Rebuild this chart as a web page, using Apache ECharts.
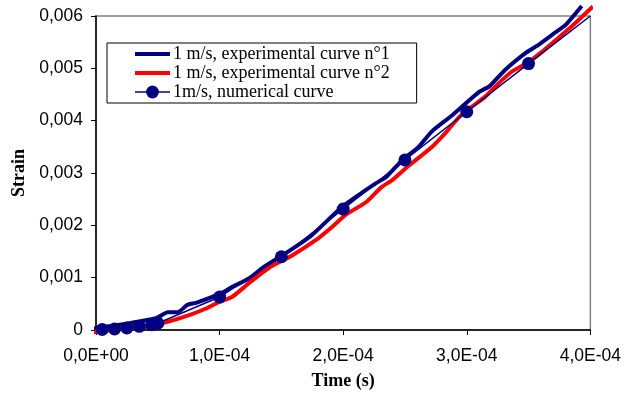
<!DOCTYPE html>
<html>
<head>
<meta charset="utf-8">
<script src="https://cdn.jsdelivr.net/npm/echarts@6/dist/echarts.min.js"></script>
<style>html,body{margin:0;padding:0;background:#fff}#c{width:624px;height:402px}</style>
</head>
<body>
<div id="c"></div>
<script>
// Time in units of 1E-4 s, strain in units of 1E-3 (converted below)
const exp1Time = [-0.10,0.01,0.27,0.49,0.58,0.66,0.74,0.81,1.00,1.10,1.24,1.35,1.51,1.67,1.75,1.99,2.15,2.27,2.35,2.48,2.61,2.72,2.88,3.10,3.18,3.31,3.48,3.58,3.69,3.80,3.93];
const exp1Strain = [0.00,0.04,0.13,0.23,0.34,0.34,0.48,0.52,0.69,0.82,0.99,1.19,1.43,1.68,1.82,2.35,2.62,2.81,2.93,3.25,3.50,3.80,4.10,4.55,4.65,4.97,5.30,5.45,5.64,5.83,6.19];
const exp2Time = [-0.09,0.14,0.41,0.57,0.76,0.90,1.00,1.10,1.24,1.40,1.59,1.78,1.91,2.02,2.19,2.31,2.40,2.51,2.59,2.72,2.83,2.96,3.15,3.23,3.36,3.50,3.60,3.72,3.82,3.93,4.02];
const exp2Strain = [-0.06,0.00,0.06,0.15,0.29,0.42,0.54,0.63,0.90,1.19,1.43,1.72,1.97,2.20,2.45,2.73,2.87,3.10,3.25,3.50,3.77,4.12,4.46,4.65,4.93,5.12,5.30,5.54,5.74,5.98,6.18];
const numTime = [0.05,0.15,0.25,0.35,0.45,0.50,1.00,1.50,2.00,2.50,3.00,3.50,4.00];
const numStrain = [0.01,0.02,0.04,0.07,0.10,0.13,0.63,1.40,2.31,3.25,4.17,5.09,6.00];
const numMarked = [true,true,true,true,true,true,true,true,true,true,true,true,false];
const seriesNames = ['1 m/s, experimental curve n°1','1 m/s, experimental curve n°2','1m/s, numerical curve'];
const xTicks = {min:0, max:4e-4, interval:1e-4};
const yTicks = {min:0, max:0.006, interval:0.001};

const toPairs = (t, s) => t.map((v, i) => [v * 1e-4, s[i] * 1e-3]);
const numData = numTime.map((v, i) => ({
  value: [v * 1e-4, numStrain[i] * 1e-3],
  symbolSize: numMarked[i] ? 13 : 0
}));

function fmtX(v) {
  if (Math.abs(v) < 1e-12) return '0,0E+00';
  const e = Math.floor(Math.log10(Math.abs(v)) + 1e-9);
  const m = v / Math.pow(10, e);
  const es = (e < 0 ? '-' : '+') + String(Math.abs(e)).padStart(2, '0');
  return m.toFixed(1).replace('.', ',') + 'E' + es;
}
function fmtY(v) {
  if (Math.abs(v) < 1e-12) return '0';
  return v.toFixed(3).replace('.', ',');
}

const chart = echarts.init(document.getElementById('c'), null, {renderer: 'canvas'});
chart.setOption({
  animation: false,
  backgroundColor: '#fff',
  grid: {left: 96, right: 32, top: 16, bottom: 72, show: true, borderColor: '#808080', borderWidth: 1.5, backgroundColor: 'transparent'},
  legend: {
    left: 107, top: 43, orient: 'vertical',
    backgroundColor: '#fff', borderColor: '#000', borderWidth: 1,
    padding: [2, 27, 2, 26], itemGap: 1, itemWidth: 35, itemHeight: 16,
    textStyle: {fontFamily: 'Liberation Serif', fontSize: 18, color: '#000', padding: [0,0,0,-2]},
    data: [
      {name: seriesNames[0], itemStyle: {opacity: 0}, lineStyle: {width: 4, color: '#000080'}},
      {name: seriesNames[1], itemStyle: {opacity: 0}, lineStyle: {width: 4, color: '#FF0000'}},
      {name: seriesNames[2], lineStyle: {width: 1.5, color: '#000080'}}
    ]
  },
  xAxis: {
    type: 'value', min: xTicks.min, max: xTicks.max, interval: xTicks.interval,
    name: 'Time (s)', nameLocation: 'middle', nameGap: 42,
    nameTextStyle: {fontFamily: 'Liberation Serif', fontWeight: 'bold', fontSize: 18, color: '#000'},
    axisLine: {show: true, onZero: false, lineStyle: {color: '#000', width: 1.5}},
    axisTick: {show: true, length: 5, lineStyle: {color: '#000'}},
    axisLabel: {formatter: fmtX, fontFamily: 'Liberation Sans', fontSize: 17.5, color: '#000', margin: 17, showMinLabel: true, showMaxLabel: true},
    splitLine: {show: false}
  },
  yAxis: {
    type: 'value', min: yTicks.min, max: yTicks.max, interval: yTicks.interval,
    name: 'Strain', nameLocation: 'middle', nameGap: 68,
    nameTextStyle: {fontFamily: 'Liberation Serif', fontWeight: 'bold', fontSize: 18, color: '#000'},
    axisLine: {show: true, onZero: false, lineStyle: {color: '#000', width: 1.5}},
    axisTick: {show: true, length: 5, lineStyle: {color: '#000'}},
    axisLabel: {formatter: fmtY, fontFamily: 'Liberation Sans', fontSize: 17.5, color: '#000', margin: 13},
    splitLine: {show: false}
  },
  series: [
    {name: seriesNames[0], type: 'line', data: toPairs(exp1Time, exp1Strain), showSymbol: false, symbol: 'none', smooth: 0.2, clip: false,
      lineStyle: {color: '#000080', width: 4}, itemStyle: {color: '#000080'}},
    {name: seriesNames[1], type: 'line', data: toPairs(exp2Time, exp2Strain), showSymbol: false, symbol: 'none', smooth: 0.2, clip: false,
      lineStyle: {color: '#FF0000', width: 4}, itemStyle: {color: '#FF0000'}},
    {name: seriesNames[2], type: 'line', data: numData, symbol: 'circle', symbolSize: 13, showAllSymbol: true, clip: false,
      lineStyle: {color: '#000080', width: 1.5}, itemStyle: {color: '#000080'}}
  ]
});
</script>
</body>
</html>
